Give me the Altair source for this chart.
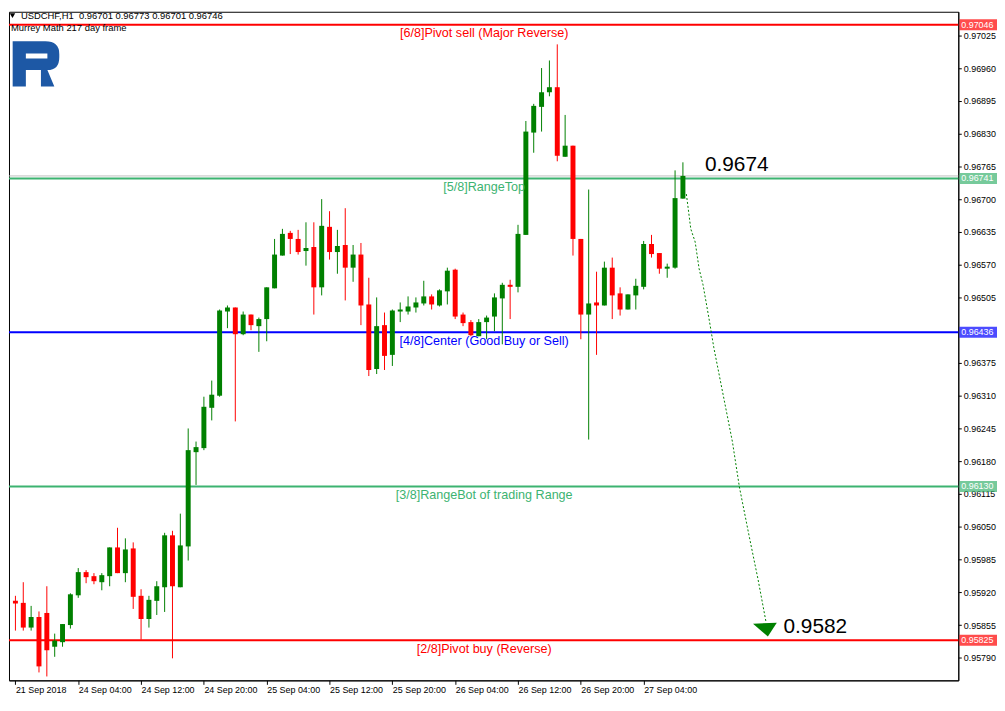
import altair as alt
import pandas as pd

# ---------------- data ----------------
opens = [0.95903, 0.95899, 0.95850, 0.95871, 0.95879, 0.95812, 0.95821, 0.95855, 0.95914, 0.95960,
         0.95952, 0.95940, 0.95952, 0.96009, 0.95958, 0.96007, 0.95913, 0.95867, 0.95903, 0.95930,
         0.96033, 0.95930, 0.96011, 0.96198, 0.96206, 0.96286, 0.96310, 0.96477, 0.96485, 0.96432,
         0.96471, 0.96448, 0.96462, 0.96523, 0.96588, 0.96633, 0.96621, 0.96597, 0.96605, 0.96525,
         0.96645, 0.96595, 0.96609, 0.96564, 0.96590, 0.96491, 0.96363, 0.96450, 0.96391, 0.96477,
         0.96477, 0.96485, 0.96493, 0.96507, 0.96489, 0.96517, 0.96560, 0.96471, 0.96456, 0.96428,
         0.96456, 0.96467, 0.96503, 0.96530, 0.96526, 0.96629, 0.96832, 0.96883, 0.96912, 0.96922,
         0.96784, 0.96806, 0.96621, 0.96471, 0.96495, 0.96489, 0.96564, 0.96513, 0.96481, 0.96509,
         0.96526, 0.96611, 0.96593, 0.96562, 0.96564, 0.96701]
highs = [0.95913, 0.95940, 0.95893, 0.95882, 0.95932, 0.95838, 0.95857, 0.95918, 0.95968, 0.95964,
         0.95958, 0.95958, 0.96009, 0.96048, 0.96027, 0.96019, 0.95926, 0.95913, 0.95942, 0.96038,
         0.96042, 0.96076, 0.96245, 0.96219, 0.96308, 0.96340, 0.96481, 0.96489, 0.96485, 0.96477,
         0.96471, 0.96465, 0.96525, 0.96621, 0.96641, 0.96637, 0.96639, 0.96654, 0.96654, 0.96700,
         0.96676, 0.96639, 0.96682, 0.96609, 0.96613, 0.96544, 0.96505, 0.96475, 0.96481, 0.96495,
         0.96507, 0.96505, 0.96538, 0.96511, 0.96521, 0.96564, 0.96562, 0.96475, 0.96460, 0.96462,
         0.96469, 0.96513, 0.96534, 0.96540, 0.96649, 0.96855, 0.96889, 0.96960, 0.96975, 0.97007,
         0.96867, 0.96806, 0.96621, 0.96719, 0.96556, 0.96576, 0.96584, 0.96525, 0.96511, 0.96542,
         0.96617, 0.96629, 0.96593, 0.96572, 0.96757, 0.96773]
lows = [0.95844, 0.95844, 0.95844, 0.95761, 0.95753, 0.95792, 0.95812, 0.95848, 0.95909, 0.95938,
        0.95936, 0.95924, 0.95932, 0.95958, 0.95940, 0.95887, 0.95826, 0.95850, 0.95875, 0.95881,
        0.95789, 0.95930, 0.95983, 0.96133, 0.96202, 0.96261, 0.96308, 0.96444, 0.96259, 0.96430,
        0.96440, 0.96397, 0.96418, 0.96523, 0.96588, 0.96591, 0.96590, 0.96568, 0.96471, 0.96509,
        0.96580, 0.96552, 0.96499, 0.96536, 0.96450, 0.96349, 0.96353, 0.96361, 0.96369, 0.96456,
        0.96471, 0.96475, 0.96489, 0.96481, 0.96487, 0.96491, 0.96462, 0.96448, 0.96428, 0.96428,
        0.96422, 0.96438, 0.96412, 0.96462, 0.96515, 0.96629, 0.96792, 0.96834, 0.96904, 0.96775,
        0.96784, 0.96588, 0.96422, 0.96223, 0.96391, 0.96489, 0.96462, 0.96469, 0.96481, 0.96481,
        0.96521, 0.96584, 0.96552, 0.96544, 0.96562, 0.96701]
closes = [0.95898, 0.95850, 0.95871, 0.95773, 0.95805, 0.95824, 0.95857, 0.95916, 0.95960, 0.95950,
          0.95942, 0.95954, 0.96009, 0.95958, 0.96005, 0.95911, 0.95867, 0.95905, 0.95932, 0.96033,
          0.95932, 0.96013, 0.96202, 0.96208, 0.96288, 0.96312, 0.96479, 0.96485, 0.96432, 0.96471,
          0.96450, 0.96462, 0.96525, 0.96590, 0.96631, 0.96621, 0.96595, 0.96603, 0.96525, 0.96647,
          0.96595, 0.96607, 0.96564, 0.96590, 0.96489, 0.96361, 0.96448, 0.96389, 0.96479, 0.96481,
          0.96487, 0.96495, 0.96507, 0.96491, 0.96519, 0.96558, 0.96467, 0.96454, 0.96430, 0.96456,
          0.96465, 0.96505, 0.96530, 0.96526, 0.96631, 0.96834, 0.96885, 0.96912, 0.96922, 0.96786,
          0.96806, 0.96621, 0.96471, 0.96493, 0.96489, 0.96564, 0.96509, 0.96481, 0.96511, 0.96528,
          0.96611, 0.96591, 0.96562, 0.96566, 0.96702, 0.96746]

x_labels = ["21 Sep 2018", "24 Sep 04:00", "24 Sep 12:00", "24 Sep 20:00", "25 Sep 04:00",
            "25 Sep 12:00", "25 Sep 20:00", "26 Sep 04:00", "26 Sep 12:00", "26 Sep 20:00",
            "27 Sep 04:00"]
x_tick_index = [0, 8, 16, 24, 32, 40, 48, 56, 64, 72, 80]

y_ticks = [0.97025, 0.96960, 0.96895, 0.96830, 0.96765, 0.96700, 0.96635, 0.96570, 0.96505,
           0.96375, 0.96310, 0.96245, 0.96180, 0.96115, 0.96050, 0.95985, 0.95920,
           0.95855, 0.95790]

murrey_levels = [0.97046, 0.96741, 0.96436, 0.96130, 0.95825]
murrey_names = ["[6/8]Pivot sell (Major Reverse)", "[5/8]RangeTop",
                "[4/8]Center (Good Buy or Sell)", "[3/8]RangeBot of trading Range",
                "[2/8]Pivot buy (Reverse)"]
murrey_colors = ["#FF0000", "#3CB371", "#0000FF", "#3CB371", "#FF0000"]
bid_price = 0.96746

forecast_x = [85.44, 86.0, 86.56, 87.06, 87.56, 88.31, 88.94, 91.31, 92.19, 93.44, 94.56, 95.56]
forecast_y = [0.96710, 0.96641, 0.96615, 0.96562, 0.96530, 0.96464, 0.96405, 0.96218,
              0.96129, 0.96031, 0.95946, 0.95863]
arrow_x = [95.44]
arrow_y = [0.95846]
note_x = [87.8, 97.8]
note_y = [0.96767, 0.95852]
note_text = ["0.9674", "0.9582"]

header_text = "USDCHF,H1\u00a0 0.96701 0.96773 0.96701 0.96746"
sub_text = "Murrey Math 217 day frame"

# ---------------- build ----------------
FONT = "Liberation Sans"
GREEN = "#008000"
RED = "#FF0000"

candles = pd.DataFrame({
    "i": list(range(len(opens))),
    "open": opens, "high": highs, "low": lows, "close": closes,
})
candles["color"] = [GREEN if c >= o else RED for o, c in zip(opens, closes)]

levels = pd.DataFrame({"price": murrey_levels, "name": murrey_names, "color": murrey_colors,
                       "tag": [f"{v:.5f}" for v in murrey_levels]})

W, H = 957, 674
xscale = alt.Scale(domain=[-0.1875, 119.4375], nice=False, zero=False)
yscale = alt.Scale(domain=[0.957453, 0.970717], nice=False, zero=False)

label_expr = "[" + ",".join(f"'{s}'" for s in x_labels) + "][round(datum.value/8)]"
xaxis = alt.Axis(values=x_tick_index, labelExpr=label_expr, title=None, grid=False,
                 labelAlign="left", labelFont=FONT, labelFontSize=9,
                 labelColor="black", tickColor="black", domainColor="black", tickSize=4,
                 labelPadding=1, labelOverlap=False, labelFlush=False, labelBound=False)
yaxis = alt.Axis(values=y_ticks, format=".5f", orient="right", title=None, grid=False,
                 labelFont=FONT, labelFontSize=9, labelColor="black", tickColor="black",
                 domainColor="black", tickSize=3, labelPadding=2, labelOverlap=False,
                 labelFlush=False, labelBound=False)


def X(f):
    return alt.X(f, type="quantitative", scale=xscale, axis=xaxis)


def Y(f):
    return alt.Y(f, type="quantitative", scale=yscale, axis=yaxis)


base = alt.Chart(candles)

level_rules = alt.Chart(levels).mark_rule(strokeWidth=2).encode(
    y=Y("price"), color=alt.Color("color:N", scale=None))

bid_rule = alt.Chart(pd.DataFrame({"p": [bid_price]})).mark_rule(
    color="#C0C0C0", strokeWidth=1).encode(y=Y("p"))

wicks = base.mark_rule(strokeWidth=1).encode(
    x=X("i"), y=Y("low"), y2="high", color=alt.Color("color:N", scale=None))

bodies = base.mark_bar(size=5).encode(
    x=X("i"), y=Y("open"), y2="close", color=alt.Color("color:N", scale=None))

level_text = alt.Chart(levels).mark_text(
    font=FONT, fontSize=12.7, align="center", baseline="middle", dy=8.5).encode(
    x=alt.value(479), y=Y("price"), text="name:N", color=alt.Color("color:N", scale=None))

tags = alt.Chart(levels).mark_tick(orient="horizontal", size=38, thickness=11).encode(
    x=alt.value(W + 20), y=Y("price"), color=alt.Color("color:N", scale=None))
tag_text = alt.Chart(levels).mark_text(
    font=FONT, fontSize=9, align="left", baseline="middle", color="white").encode(
    x=alt.value(W + 3), y=Y("price"), text="tag:N")

forecast = alt.Chart(pd.DataFrame({"x": forecast_x, "y": forecast_y, "o": range(len(forecast_x))})
                     ).mark_line(color=GREEN, strokeWidth=1, strokeDash=[2, 2]).encode(
    x=X("x"), y=Y("y"), order="o:Q")

arrow = alt.Chart(pd.DataFrame({"x": arrow_x, "y": arrow_y})).mark_point(
    shape="M-1,-0.5L1,-0.58L0.25,0.58Z", size=576, filled=True, color=GREEN,
    opacity=1, strokeWidth=0).encode(x=X("x"), y=Y("y"))

notes = alt.Chart(pd.DataFrame({"x": note_x, "y": note_y, "t": note_text})).mark_text(
    font=FONT, fontSize=21, align="left", baseline="middle", color="black").encode(
    x=X("x"), y=Y("y"), text="t:N")

one = pd.DataFrame({"k": [0]})
tri = alt.Chart(one).mark_point(shape="triangle-down", size=30, filled=True, color="black",
                               opacity=1).encode(x=alt.value(3.5), y=alt.value(4))
header = alt.Chart(one).mark_text(font=FONT, fontSize=9.5, align="left", baseline="middle",
                                  color="black", text=header_text).encode(
    x=alt.value(12), y=alt.value(4))
sub = alt.Chart(one).mark_text(font=FONT, fontSize=9.5, align="left", baseline="middle",
                               color="black", text=sub_text).encode(
    x=alt.value(2), y=alt.value(16))


def norm_path(cmds, cx, cy, s):
    out = []
    for c, pts in cmds:
        nums = [f"{(pts[j] - cx) / s:.4f},{(pts[j + 1] - cy) / s:.4f}" for j in range(0, len(pts), 2)]
        out.append(c + " ".join(nums))
    return "".join(out)


logo_cmds = [("M", (0, 0)), ("L", (33, 0)), ("Q", (47, 0, 47, 13)), ("L", (47, 16)),
             ("Q", (47, 29, 35, 29)), ("L", (42, 45.5)), ("L", (28.5, 45.5)), ("L", (28.5, 29)),
             ("L", (13.3, 29)), ("L", (13.3, 45.5)), ("L", (0, 45.5)), ("Z", ()),
             ("M", (13.3, 12.3)), ("L", (13.3, 17.3)), ("L", (35, 17.3)), ("L", (35, 12.3)),
             ("Z", ())]
logo_path = norm_path(logo_cmds, 23.5, 22.75, 23.5)
logo = alt.Chart(one).mark_point(shape=logo_path, size=47 * 47, filled=True, color="#1d58a5",
                                opacity=1, strokeWidth=0).encode(
    x=alt.value(27.2), y=alt.value(52.5))

chart = alt.layer(
    level_rules, bid_rule, wicks, bodies, level_text, forecast, arrow, notes,
    tags, tag_text, tri, header, sub, logo
).properties(
    width=W, height=H, padding=0, background="white"
).configure_view(stroke="black", strokeWidth=1)

chart.save("out.html", embed_options={"renderer": "svg", "actions": False})
